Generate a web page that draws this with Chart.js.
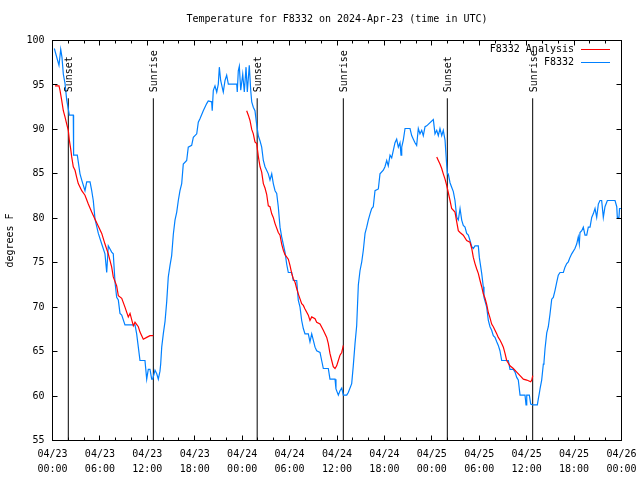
<!DOCTYPE html>
<html><head><meta charset="utf-8">
<script src="https://cdn.jsdelivr.net/npm/chart.js@4"></script>
<style>html,body{margin:0;padding:0;background:#fff;}canvas{display:block;}</style>
</head><body>
<canvas id="c" width="640" height="480"></canvas>
<script>
// ---- data (hours since 04/23 00:00 UTC, degrees F) ----
const stationHours = [0.23,0.82,1.04,1.20,1.37,1.58,1.80,1.96,2.13,2.63,2.67,3.14,3.48,3.70,4.11,4.33,4.75,4.96,5.16,5.38,5.80,6.23,6.64,6.86,7.06,7.49,7.69,7.91,8.12,8.33,8.54,8.76,9.17,10.44,10.65,10.86,11.07,11.70,11.92,12.12,12.34,12.55,12.68,12.97,13.19,13.39,13.60,13.69,13.82,14.02,14.24,14.45,14.65,14.87,15.08,15.29,15.50,15.72,15.92,16.13,16.35,16.55,16.98,17.18,17.61,17.82,18.25,18.45,18.66,19.08,19.51,19.71,20.14,20.21,20.35,20.56,20.78,20.98,21.11,21.28,21.61,21.83,22.04,22.25,23.31,23.38,23.51,23.64,23.82,24.07,24.27,24.49,24.65,24.90,25.08,25.21,25.41,25.62,25.84,26.04,26.26,26.47,26.68,26.89,27.31,27.52,27.74,27.94,28.16,28.37,28.57,28.79,29.00,29.42,29.64,29.84,30.27,30.47,30.90,31.10,31.32,31.53,31.74,31.95,32.37,32.58,32.80,33.00,33.22,33.43,33.85,34.06,34.27,34.90,35.11,35.75,35.87,36.17,36.38,36.60,36.80,37.23,37.43,37.86,38.06,38.28,38.49,38.70,38.91,39.13,39.33,39.55,39.76,39.96,40.18,40.39,40.59,40.81,41.23,41.44,41.86,42.07,42.29,42.49,42.71,42.92,43.12,43.34,43.55,43.76,43.97,44.10,44.19,44.39,44.61,45.24,45.45,45.66,45.87,46.08,46.29,46.50,46.72,46.92,47.14,47.35,48.19,48.40,48.62,48.82,49.03,49.25,49.45,49.67,49.88,49.98,50.08,50.30,50.51,50.72,50.93,51.15,51.35,51.57,51.78,51.98,52.20,52.41,52.62,52.83,53.05,53.25,53.46,53.88,54.01,54.31,54.51,54.60,54.94,55.15,55.36,55.57,55.78,55.99,56.21,56.41,56.62,56.84,57.68,57.89,58.31,58.53,58.74,58.94,59.16,59.79,59.92,60.01,60.34,60.51,60.77,61.35,61.48,61.60,61.69,61.90,62.11,62.19,62.32,62.54,62.74,62.95,63.17,63.37,63.59,63.80,64.00,64.22,64.64,64.85,65.07,65.27,65.48,65.70,66.11,66.33,66.53,66.66,66.75,66.97,67.17,67.38,67.60,67.80,68.02,68.23,68.43,68.65,68.86,69.07,69.28,69.49,69.70,69.91,70.21,71.18,71.40,71.47,71.68,71.75,72.00];
const stationTemps = [99.1,97.2,99.0,98.1,96.2,95.2,93.3,92.5,91.6,91.6,87.1,87.1,85.0,84.3,83.1,84.1,84.1,83.1,82.0,79.9,78.3,77.1,76.0,73.9,76.9,76.2,76.0,72.8,71.1,70.8,69.3,69.1,68.0,68.0,67.0,65.5,64.0,64.0,61.9,63.0,63.0,61.9,61.9,62.9,62.5,61.9,62.8,63.6,65.5,67.0,68.4,70.6,73.4,74.7,75.8,78.2,79.8,80.7,82.0,83.1,83.9,86.1,86.5,88.0,88.2,89.1,89.5,90.8,91.2,92.1,92.9,93.2,93.1,92.1,94.4,94.9,94.2,95.1,97.0,95.5,94.2,95.5,96.1,95.1,95.1,94.2,96.6,97.1,94.4,96.2,94.2,97.0,94.2,97.2,94.4,93.1,92.5,92.1,90.5,89.3,88.7,88.0,86.5,85.8,85.0,84.3,85.0,83.9,83.1,82.8,81.3,79.0,77.9,76.2,74.8,73.9,73.9,73.0,73.0,70.8,70.0,68.5,67.6,67.0,67.0,66.1,67.0,66.3,65.5,65.1,64.9,64.0,63.1,63.1,61.9,61.9,60.8,60.1,60.6,60.9,60.1,60.1,60.4,61.4,63.4,65.9,67.9,72.5,74.1,75.1,76.4,78.3,79.0,79.8,80.5,81.1,81.3,83.1,83.3,85.0,85.4,85.8,86.5,85.9,87.1,86.8,87.6,88.5,88.9,88.0,88.5,87.1,88.0,88.8,90.1,90.1,89.3,88.9,88.5,88.2,90.1,89.5,89.9,89.3,90.3,90.4,91.1,89.5,89.9,89.3,90.1,89.3,89.9,88.8,86.0,85.0,85.0,84.0,83.5,83.0,82.0,80.1,79.8,81.1,79.8,79.2,79.0,78.3,78.1,77.5,76.8,76.6,76.9,76.9,75.6,73.8,72.3,71.1,70.0,68.5,67.8,67.4,66.8,66.6,66.1,65.7,65.1,64.0,64.0,63.0,63.0,62.7,62.1,61.8,60.1,60.1,59.0,60.1,60.1,59.1,59.0,59.0,59.7,60.3,60.8,61.8,63.6,63.8,65.3,67.1,67.8,69.2,70.9,71.1,71.9,72.8,73.6,73.9,73.9,74.5,74.9,75.1,75.6,76.0,76.6,77.1,77.9,77.1,78.4,78.6,79.0,78.1,78.1,79.0,79.0,80.1,80.5,81.1,80.1,81.6,82.0,82.0,80.1,81.3,82.0,82.0,81.3,80.1,80.1,81.1,81.1];

// analysis: three night segments, null marks a break
const analysisHours = [0.32,0.82,0.95,1.16,1.37,1.58,1.80,2.00,2.13,2.30,2.43,2.63,2.85,3.06,3.26,3.70,4.11,4.53,4.96,5.38,5.80,6.23,6.64,7.06,7.49,7.69,8.12,8.33,8.76,9.17,9.59,9.81,10.23,10.44,10.86,11.07,11.49,11.92,12.34,12.76,
  18.0,
  24.57,24.78,24.99,25.21,25.41,25.62,25.84,26.04,26.26,26.47,26.68,26.89,27.10,27.31,27.52,27.74,27.94,28.16,28.57,28.79,29.00,29.21,29.42,29.84,30.05,30.27,30.47,30.69,30.90,31.10,31.53,31.74,31.95,32.37,32.58,32.80,33.22,33.43,33.85,34.27,34.70,34.90,35.11,35.33,35.53,35.75,35.96,36.17,36.38,36.60,36.80,
  42.0,
  48.62,48.82,49.03,49.25,49.45,49.67,49.88,50.08,50.30,50.51,50.93,51.15,51.35,51.57,51.98,52.41,52.83,53.05,53.25,53.46,53.68,53.88,54.10,54.31,54.51,54.73,54.94,55.15,55.36,55.57,55.78,55.99,56.21,56.41,56.62,56.84,57.05,57.26,57.47,57.89,58.31,58.74,59.16,59.58,60.01,60.51,60.64,60.77];
const analysisTemps = [94.9,94.9,94.4,93.3,92.1,91.4,90.6,89.9,88.8,87.8,86.9,85.8,85.4,84.6,83.9,83.1,82.6,81.6,80.7,79.9,79.1,78.3,77.1,76.0,74.5,73.4,72.4,71.3,71.0,70.0,68.9,69.3,67.9,68.3,67.8,67.2,66.4,66.6,66.8,66.8,
  null,
  92.1,91.6,91.0,90.0,89.5,88.6,88.4,87.0,85.8,85.2,83.9,83.4,82.7,81.4,81.3,80.5,80.1,79.4,78.4,78.1,77.1,76.4,75.9,75.4,74.7,73.8,73.2,72.8,72.1,71.5,70.4,70.2,69.8,69.1,68.5,68.9,68.7,68.3,68.1,67.4,66.6,65.9,64.8,64.0,63.3,63.1,63.4,64.0,64.6,64.9,65.7,
  null,
  86.9,86.5,86.1,85.6,85.0,84.4,83.7,82.9,82.0,81.1,80.7,79.6,78.6,78.4,78.1,77.5,77.3,76.6,75.6,74.9,74.3,73.8,73.0,72.3,71.5,71.0,70.3,69.4,68.8,68.1,67.8,67.4,67.0,66.6,66.3,65.9,65.5,64.8,64.0,63.4,63.1,62.7,62.3,61.9,61.8,61.6,61.8,62.3];

const sunsetHours  = [2.00, 25.90, 49.96];
const sunriseHours = [12.76, 36.80, 60.76];
const sunLineTop = 93.5;   // degrees F where the marker lines stop

const tickDates = ['04/23','04/23','04/23','04/23','04/24','04/24','04/24','04/24','04/25','04/25','04/25','04/25','04/26'];
const tickTimes = ['00:00','06:00','12:00','18:00','00:00','06:00','12:00','18:00','00:00','06:00','12:00','18:00','00:00'];

const titleText = 'Temperature for F8332 on 2024-Apr-23 (time in UTC)';
const yTitle = 'degrees F';
const seriesNames = ['F8332 Analysis','F8332'];
const RED = '#ff0000', BLUE = '#0080ff';
const FONT = '10px "DejaVu Sans Mono", monospace';

// ---- build datasets ----
const stationData = stationHours.map((h,i)=>({x:h,y:stationTemps[i]}));
const analysisData = analysisHours.map((h,i)=>({x:h,y:analysisTemps[i]}));
const sunData = [];
[...sunsetHours, ...sunriseHours].sort((a,b)=>a-b).forEach(h=>{
  sunData.push({x:h,y:55},{x:h,y:sunLineTop},{x:h+0.01,y:null});
});

const gp = {
  id:'gp',
  afterDraw(chart){
    const {ctx, chartArea:a, scales:{x,y}} = chart;
    ctx.save();
    ctx.strokeStyle='#000'; ctx.lineWidth=1;
    ctx.beginPath();
    for (let h=0; h<=72; h+=2){
      const px = Math.round(x.getPixelForValue(h)-0.5)+0.5;
      const L = (h%6===0)?5:3;
      ctx.moveTo(px,a.bottom); ctx.lineTo(px,a.bottom-L);
      ctx.moveTo(px,a.top); ctx.lineTo(px,a.top+L);
    }
    for (let v=55; v<=100; v+=5){
      const py = Math.round(y.getPixelForValue(v)-0.5)+0.5;
      ctx.moveTo(a.left,py); ctx.lineTo(a.left+5,py);
      ctx.moveTo(a.right,py); ctx.lineTo(a.right-5,py);
    }
    ctx.stroke();
    ctx.strokeRect(a.left,a.top,a.right-a.left,a.bottom-a.top);

    ctx.fillStyle='#000'; ctx.font=FONT;
    ctx.textAlign='center'; ctx.textBaseline='middle';
    ctx.fillText(titleText,(a.left+a.right)/2,19);
    ctx.save(); ctx.translate(10,(a.top+a.bottom)/2); ctx.rotate(-Math.PI/2);
    ctx.fillText(yTitle,0,0); ctx.restore();
    const lab=(h,t)=>{
      const px=x.getPixelForValue(h), py=y.getPixelForValue(sunLineTop)-6;
      ctx.save(); ctx.translate(px+1.5,py); ctx.rotate(-Math.PI/2);
      ctx.textAlign='left'; ctx.textBaseline='middle'; ctx.fillText(t,0,0); ctx.restore();
    };
    sunsetHours.forEach(h=>lab(h,'Sunset'));
    sunriseHours.forEach(h=>lab(h,'Sunrise'));
    const cols=[RED,BLUE];
    seriesNames.forEach((n,i)=>{
      const ly = 49.5 + i*13;
      ctx.textAlign='right'; ctx.fillStyle='#000';
      ctx.fillText(n,574,ly);
      ctx.strokeStyle=cols[i]; ctx.beginPath(); ctx.moveTo(581,ly); ctx.lineTo(610,ly); ctx.stroke();
    });
    ctx.restore();
  }
};

new Chart(document.getElementById('c'),{
  type:'line',
  data:{datasets:[
    {label:seriesNames[0],data:analysisData,borderColor:RED,borderWidth:1.2,pointRadius:0,tension:0,spanGaps:false},
    {label:seriesNames[1],data:stationData,borderColor:BLUE,borderWidth:1.2,pointRadius:0,tension:0},
    {label:'sun',data:sunData,borderColor:'#000',borderWidth:1,pointRadius:0,tension:0,spanGaps:false}
  ]},
  options:{
    responsive:false, animation:false,
    layout:{padding:{top:40.5,right:18.5,left:0,bottom:0}},
    plugins:{legend:{display:false},title:{display:false},tooltip:{enabled:false}},
    scales:{
      x:{type:'linear',min:0,max:72,
        grid:{display:false,drawTicks:false,tickLength:0},border:{display:false},
        afterFit:s=>{s.height=39.5;s.paddingLeft=0;s.paddingRight=0;},
        ticks:{stepSize:6,autoSkip:false,maxRotation:0,padding:6,color:'#000',
          font:{family:'"DejaVu Sans Mono", monospace',size:10,lineHeight:1.5},
          callback:(v,i)=>[tickDates[i],tickTimes[i]]}},
      y:{type:'linear',min:55,max:100,
        grid:{display:false,drawTicks:false,tickLength:0},border:{display:false},
        afterFit:s=>{s.width=52.5;s.paddingTop=0;s.paddingBottom=0;},
        ticks:{stepSize:5,padding:8,color:'#000',
          font:{family:'"DejaVu Sans Mono", monospace',size:10}}}
    }
  },
  plugins:[gp]
});
</script>
</body></html>
